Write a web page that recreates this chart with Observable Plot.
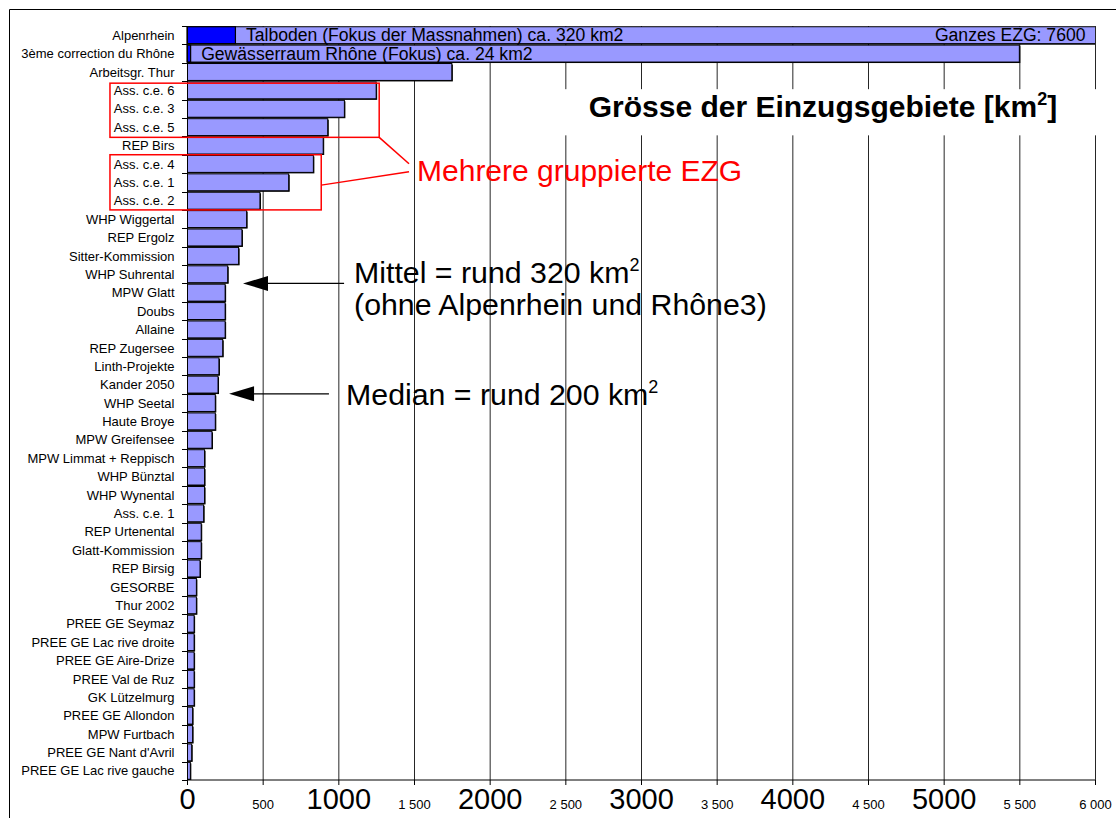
<!DOCTYPE html>
<html>
<head>
<meta charset="utf-8">
<script src="https://cdn.jsdelivr.net/npm/d3@7"></script>
<script src="https://cdn.jsdelivr.net/npm/@observablehq/plot@0.6"></script>
<style>
  html, body { margin: 0; padding: 0; background: #fff; }
  #chart svg { display: block; }
</style>
</head>
<body>
<div id="chart"></div>
<script>
// ---------- data ----------
const labels = [
  "Alpenrhein", "3ème correction du Rhône", "Arbeitsgr. Thur",
  "Ass. c.e. 6", "Ass. c.e. 3", "Ass. c.e. 5", "REP Birs",
  "Ass. c.e. 4", "Ass. c.e. 1", "Ass. c.e. 2",
  "WHP Wiggertal", "REP Ergolz", "Sitter-Kommission", "WHP Suhrental",
  "MPW Glatt", "Doubs", "Allaine", "REP Zugersee", "Linth-Projekte",
  "Kander 2050", "WHP Seetal", "Haute Broye", "MPW Greifensee",
  "MPW Limmat + Reppisch", "WHP Bünztal", "WHP Wynental", "Ass. c.e. 1",
  "REP Urtenental", "Glatt-Kommission", "REP Birsig", "GESORBE", "Thur 2002",
  "PREE GE Seymaz", "PREE GE Lac rive droite", "PREE GE Aire-Drize",
  "PREE Val de Ruz", "GK Lützelmurg", "PREE GE Allondon", "MPW Furtbach",
  "PREE GE Nant d'Avril", "PREE GE Lac rive gauche"
];
const values = [
  7600, 5500, 1750,
  1250, 1040, 930, 900,
  835, 672, 482,
  394, 363, 341, 269,
  252, 252, 252, 236, 211,
  205, 187, 187, 165,
  116, 116, 116, 110,
  94, 94, 86, 62, 62,
  47, 47, 47,
  47, 47, 37, 37,
  31, 22
];
// focus areas inside the two largest catchments
const focusIds = [0, 1];
const focusValues = [320, 24];
const focusTexts = ["Talboden (Fokus der Massnahmen) ca. 320 km2", "Gewässerraum Rhône (Fokus) ca. 24 km2"];
const totalNote = "Ganzes EZG: 7600";

// axis ticks
const majorTicks = [0, 1000, 2000, 3000, 4000, 5000];
const minorTicks = [500, 1500, 2500, 3500, 4500, 5500, 6000];
const gridTicks = [500, 1000, 1500, 2000, 2500, 3000, 3500, 4000, 4500, 5000, 5500, 6000];

// texts
const titleText = "Grösse der Einzugsgebiete [km";
const groupNote = "Mehrere gruppierte EZG";
const meanNote = ["Mittel = rund 320 km", "(ohne Alpenrhein und Rhône3)"];
const medianNote = "Median = rund 200 km";
const meanValue = 320, medianValue = 200;

// ---------- build ----------
const rows = labels.map((label, i) => ({id: i, label, value: values[i]}));
const focus = focusIds.map((id, k) => ({id, value: focusValues[k], text: focusTexts[k]}));
const fmtSpace = d3.formatLocale({decimal: ".", thousands: " ", grouping: [3], currency: ["", ""]}).format(",");
const FONT = "'Liberation Sans', Arial, Helvetica, sans-serif";

const W = 1116, H = 818;
const chart = Plot.plot({
  width: W, height: H,
  marginLeft: 187, marginRight: 21, marginTop: 26, marginBottom: 38,
  style: {fontFamily: FONT, background: "#fff", overflow: "visible", color: "#000"},
  x: {domain: [0, 6000]},
  y: {domain: d3.range(labels.length), paddingInner: 0.08, paddingOuter: 0.04, round: false},
  marks: [
    Plot.ruleX(gridTicks, {stroke: "#000", strokeWidth: 1, strokeOpacity: 0.85}),
    Plot.barX(rows, {x: "value", y: "id", fill: "#000", dx: 1, dy: 1, clip: true}),
    Plot.barX(rows, {x: "value", y: "id", fill: "#9999ff", stroke: "#000", strokeWidth: 1, clip: true}),
    Plot.barX(focus, {x: "value", y: "id", fill: "#0000ff", stroke: "#000", strokeWidth: 1.2}),
    Plot.text(focus, {x: "value", y: "id", text: "text", textAnchor: "start", dx: 10, fontSize: 17.6, fill: "#000"}),
    Plot.text([0], {y: d => d, text: () => totalNote, frameAnchor: "right", textAnchor: "end", dx: -10, fontSize: 17.6, fill: "#000"}),
    Plot.ruleX([0], {stroke: "#000", strokeWidth: 1}),
    Plot.axisY({tickSize: 0, tickPadding: 13, fontSize: 13, tickFormat: i => labels[i], label: null}),
    Plot.axisX({ticks: majorTicks, tickSize: 5, tickPadding: 3, fontSize: 29, tickFormat: d => String(d), label: null}),
    Plot.axisX({ticks: minorTicks, tickSize: 5, tickPadding: 14, fontSize: 13, tickFormat: fmtSpace, label: null})
  ]
});
document.getElementById("chart").appendChild(chart);

// ---------- annotations (positioned through the chart's scales) ----------
const x = chart.scale("x");
const y = chart.scale("y");
const step = y.step, bw = y.bandwidth;
const rowTop = i => (i < labels.length ? y.apply(i) - (step - bw) / 2 : y.apply(labels.length - 1) + bw + (step - bw) / 2);
const X = v => x.apply(v);
const svg = d3.select(chart);
const g = svg.append("g").attr("font-family", FONT).attr("text-anchor", "start");

// outer frame (left and top edges)
g.append("path").attr("d", `M9.5,${H} V9.5 H${W}`).attr("fill", "none").attr("stroke", "#000").attr("stroke-width", 1);

// axis lines and category tick marks
const bottom = H - 38;
g.append("line").attr("x1", X(0)).attr("x2", X(6000)).attr("y1", bottom).attr("y2", bottom).attr("stroke", "#000");
for (let i = 0; i <= labels.length; i++) {
  const yy = Math.round(rowTop(i)) + 0.5;
  g.append("line").attr("x1", X(0) - 5).attr("x2", X(0)).attr("y1", yy).attr("y2", yy).attr("stroke", "#000");
}

// title with white background
g.append("rect").attr("x", X(2470)).attr("y", rowTop(3) + 8)
  .attr("width", X(6000) + 12 - X(2470)).attr("height", rowTop(6) - 1 - (rowTop(3) + 8)).attr("fill", "#fff");
const title = g.append("text").attr("x", X(5750)).attr("y", rowTop(5) - 0.5)
  .attr("text-anchor", "end").attr("font-size", 30).attr("font-weight", "bold").attr("fill", "#000");
title.append("tspan").text(titleText);
title.append("tspan").attr("font-size", 18).attr("dy", -12).text("2");
title.append("tspan").attr("dy", 12).text("]");

// red group boxes
const red = "#ff0000";
const boxLeft = -509;
g.append("rect").attr("x", X(boxLeft)).attr("y", rowTop(3) + 2)
  .attr("width", X(1270) - X(boxLeft)).attr("height", rowTop(6) - rowTop(3) - 1)
  .attr("fill", "none").attr("stroke", red).attr("stroke-width", 1.5);
g.append("rect").attr("x", X(boxLeft)).attr("y", rowTop(7))
  .attr("width", X(887) - X(boxLeft)).attr("height", rowTop(10) - rowTop(7))
  .attr("fill", "none").attr("stroke", red).attr("stroke-width", 1.5);
g.append("line").attr("x1", X(1270)).attr("y1", rowTop(6) + 1).attr("x2", X(1467)).attr("y2", rowTop(7) + 9)
  .attr("stroke", red).attr("stroke-width", 1.5);
g.append("line").attr("x1", X(887)).attr("y1", rowTop(8) + 12).attr("x2", X(1467)).attr("y2", rowTop(7) + 17)
  .attr("stroke", red).attr("stroke-width", 1.5);
g.append("text").attr("x", X(1520)).attr("y", rowTop(8) + 8).attr("font-size", 30).attr("fill", red).text(groupNote);

// arrows
function arrow(tailV, tipV, yy) {
  g.append("line").attr("x1", X(tailV)).attr("x2", X(tipV) + 20).attr("y1", yy).attr("y2", yy).attr("stroke", "#000").attr("stroke-width", 1.3);
  const tx = X(tipV);
  g.append("path").attr("d", `M${tx},${yy} L${tx + 25},${yy - 7.5} L${tx + 25},${yy + 7.5} Z`).attr("fill", "#000");
}
arrow(1038, meanValue + 50, rowTop(14));
arrow(938, medianValue + 78, rowTop(20));

function supText(xv, yy, main) {
  const t = g.append("text").attr("x", X(xv)).attr("y", yy).attr("font-size", 30.3).attr("fill", "#000");
  t.append("tspan").text(main);
  t.append("tspan").attr("font-size", 18).attr("dy", -12).text("2");
  return t;
}
supText(1104, rowTop(14), meanNote[0]);
g.append("text").attr("x", X(1104)).attr("y", rowTop(14) + 32).attr("font-size", 30.3).attr("fill", "#000").text(meanNote[1]);
supText(1051, rowTop(20) + 11, medianNote);
</script>
</body>
</html>
